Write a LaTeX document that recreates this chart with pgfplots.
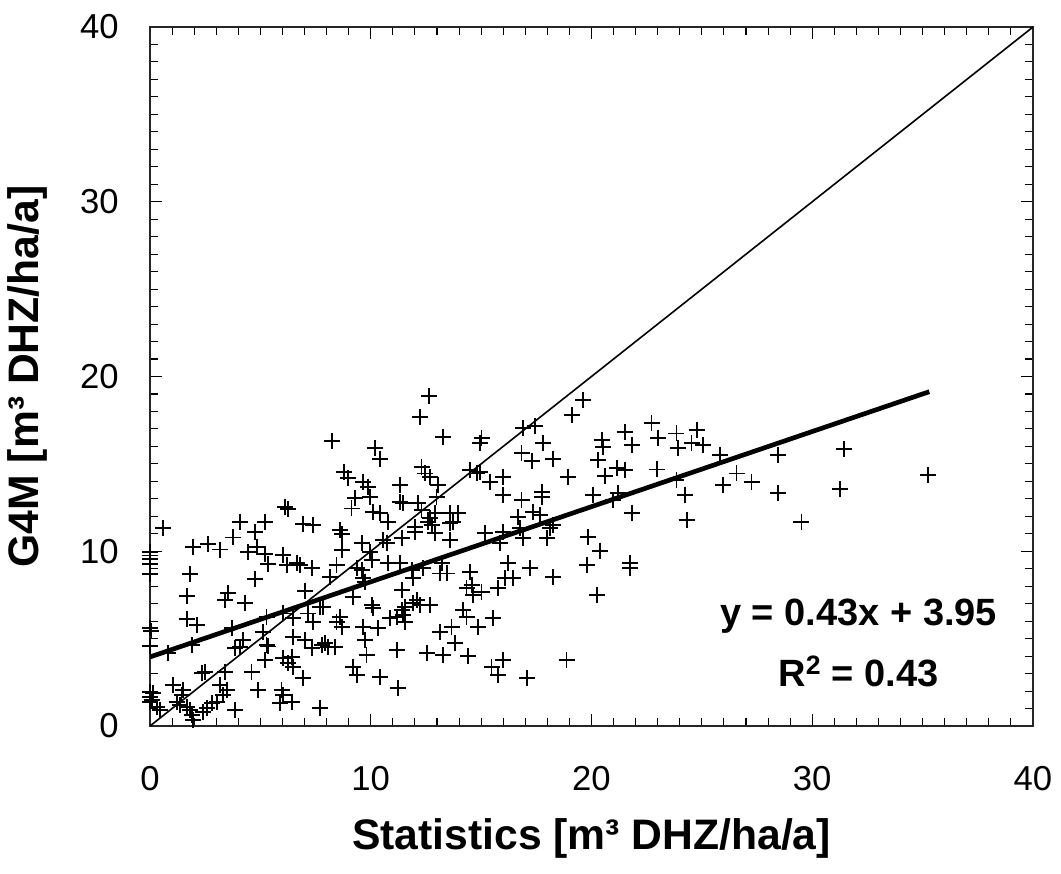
\documentclass[border=0pt]{standalone}
\usepackage{fontspec}
\setmainfont{Liberation Sans}
\usepackage{pgfplots}
\pgfplotsset{compat=1.18}
\usetikzlibrary{calc}
\pgfplotstableread{
x y
8.23 16.32
8.79 14.55
8.98 14.17
9.28 13.03
9.13 12.45
8.60 11.20
8.68 11.00
8.68 10.07
8.45 9.20
8.15 8.54
9.21 7.40
8.60 6.25
8.68 5.68
9.20 3.40
9.36 2.92
0.60 11.35
6.11 12.55
6.26 12.40
4.08 11.69
5.21 11.69
4.76 11.12
6.94 11.56
7.40 11.50
3.77 10.79
1.96 10.26
2.64 10.41
3.17 10.10
4.45 9.97
4.83 10.26
5.21 9.84
6.04 9.78
5.36 9.27
6.19 9.21
6.64 9.31
6.79 9.21
7.32 9.02
4.76 8.41
1.81 8.70
1.66 7.44
3.55 7.63
3.40 7.21
4.30 7.06
7.02 7.74
7.70 6.83
1.66 6.10
2.11 5.78
0.00 5.59
0.05 5.45
0.00 4.58
0.83 4.16
1.89 4.63
3.70 5.59
5.28 6.25
6.04 6.44
6.49 6.16
7.17 6.44
7.40 5.97
7.85 6.83
8.45 5.97
5.13 5.40
4.23 4.92
4.08 4.54
3.85 4.44
5.28 4.63
5.35 4.55
6.49 5.07
7.02 4.92
7.32 4.44
7.78 4.63
7.93 4.73
8.07 4.54
8.38 4.54
5.21 3.78
6.04 3.87
6.26 3.59
6.42 3.97
6.49 3.40
6.94 2.73
4.60 3.11
3.40 3.11
2.34 3.02
2.49 3.11
3.17 2.35
3.47 2.06
3.32 1.77
3.02 1.39
2.79 1.30
2.57 1.01
2.41 0.82
4.90 2.06
3.85 0.92
5.96 2.06
6.04 1.77
5.89 1.30
6.42 1.39
7.70 1.01
1.06 2.35
1.51 2.06
1.43 1.77
0.00 1.96
0.00 1.68
0.15 1.87
0.08 1.49
0.00 1.39
0.30 1.10
0.45 0.92
1.21 1.39
1.36 1.20
1.66 1.10
1.81 0.92
1.89 0.63
1.96 0.34
0.00 9.95
0.00 9.76
0.00 9.57
0.00 9.27
0.00 8.70
12.64 18.90
12.23 17.66
13.28 16.55
15.02 16.46
14.95 16.17
16.91 17.03
17.44 17.16
10.19 15.89
10.42 15.30
16.83 15.60
17.29 15.16
17.81 16.17
18.27 15.30
18.95 14.26
12.30 14.83
12.45 14.45
12.68 14.26
9.66 13.98
9.89 13.69
11.32 13.79
13.06 13.79
14.49 14.65
14.80 14.45
14.95 14.55
15.40 13.98
16.00 14.26
16.00 13.22
16.83 12.93
17.74 13.41
17.74 13.12
9.96 13.12
11.32 12.83
11.47 12.74
12.15 12.74
12.30 12.36
12.98 13.12
12.68 11.88
12.91 12.17
13.59 12.17
13.96 12.17
13.74 11.69
10.11 12.26
10.42 12.17
10.79 11.69
16.68 11.98
17.36 12.26
17.66 12.07
12.00 11.40
12.60 11.69
12.76 11.50
13.59 11.60
12.00 11.12
12.91 11.02
13.59 10.64
15.17 11.02
16.00 11.12
16.76 11.31
16.91 10.74
17.97 10.74
18.12 11.31
18.27 11.50
15.85 10.45
9.59 10.45
9.96 9.97
10.57 10.64
10.72 10.45
11.40 10.74
10.04 9.50
9.36 9.02
9.59 8.92
9.66 8.45
9.74 8.26
10.79 9.31
11.32 9.31
11.85 8.92
11.92 8.45
12.38 9.02
13.21 9.31
13.13 8.73
13.44 8.73
14.49 8.83
16.23 9.31
16.08 8.45
16.46 8.45
17.21 9.02
18.27 8.54
11.40 7.78
14.34 7.88
14.57 8.07
14.64 7.50
15.02 7.69
15.78 7.88
10.04 6.92
10.11 6.73
11.55 6.83
11.92 7.02
12.08 7.21
12.23 6.92
12.68 6.92
10.87 6.16
11.17 6.25
11.40 6.64
11.47 6.35
11.55 5.97
9.66 5.68
10.34 5.59
9.74 4.92
14.19 6.64
14.34 6.25
15.55 6.16
14.87 5.68
13.13 5.40
13.66 5.68
13.81 4.73
11.17 4.35
12.53 4.16
13.28 4.06
14.42 4.00
9.81 4.06
10.42 2.82
11.25 2.15
15.47 3.40
16.00 3.78
15.78 2.92
17.06 2.73
18.87 3.78
19.62 18.65
19.10 17.79
22.72 17.35
21.51 16.84
21.82 16.08
20.46 16.36
20.53 15.98
23.02 16.46
23.85 16.74
23.93 15.89
24.76 16.93
24.53 16.17
25.06 16.08
20.30 15.22
21.14 14.74
21.51 14.65
20.61 14.30
22.95 14.68
25.82 15.50
28.46 15.50
23.85 14.07
26.57 14.45
27.25 13.98
25.97 13.79
24.23 13.22
20.08 13.22
20.98 12.93
21.21 13.31
21.82 12.20
24.31 11.78
28.46 13.31
19.85 10.83
20.38 10.03
19.78 9.21
21.74 9.31
21.74 9.02
20.26 7.50
31.43 15.85
31.25 13.56
29.51 11.69
35.25 14.36
}\pts
\begin{document}
\begin{tikzpicture}
\begin{axis}[
  scale only axis,
  width=662.25pt, height=524.25pt,
  xmin=0, xmax=40, ymin=0, ymax=40,
  xtick={0,10,...,40}, ytick={0,10,...,40},
  minor tick num=9,
  tick align=inside,
  major tick length=9pt, minor tick length=6pt,
  every tick/.style={black, line width=0.8pt},
  axis line style={black!85, line width=1.5pt},
  tick label style={font=\fontsize{26}{30}\selectfont},
  /pgf/number format/assume math mode=true,
  xticklabel style={yshift=-27pt},
  yticklabel style={xshift=-20pt},
  xlabel={Statistics [m³ DHZ/ha/a]},
  ylabel={G4M [m³ DHZ/ha/a]},
  label style={font=\fontsize{32}{38}\selectfont\bfseries},
  xlabel style={yshift=-14pt},
  ylabel style={yshift=18pt},
]
\addplot[only marks, mark=+, mark size=6pt, mark options={line width=1.4pt}, black] table {\pts};
\addplot[black, line width=1.2pt] coordinates {(0,0) (40,40)};
\addplot[black, line width=3.5pt] coordinates {(0,3.95) (35.3,19.13)};
\node[font=\fontsize{28.5}{32}\selectfont\bfseries] at (axis cs:32.1,6.3) {y = 0.43x + 3.95};
\node[font=\fontsize{28.5}{32}\selectfont\bfseries] at (axis cs:32.1,3.1) {R\textsuperscript{2} = 0.43};
\coordinate (ll) at (rel axis cs:0,0);
\coordinate (ur) at (rel axis cs:1,1);
\end{axis}
\pgfresetboundingbox
\path[use as bounding box] ($(ll)+(-112.5pt,-111pt)$) rectangle ($(ur)+(21pt,20.25pt)$);
\end{tikzpicture}
\end{document}
